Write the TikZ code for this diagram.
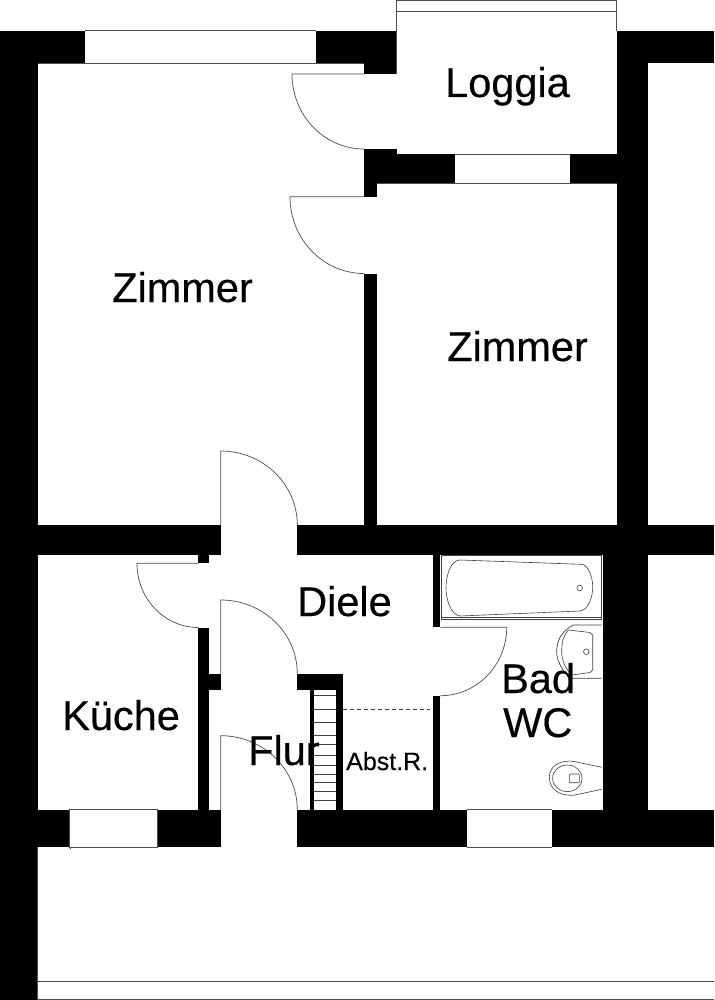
\documentclass[tikz,border=0pt]{standalone}
\usepackage{fontspec}
\setmainfont[FakeBold=0.35]{Liberation Sans}
\tikzset{
  wall/.style={fill=black, draw=none},
  thinline/.style={draw=black!70, line width=0.7pt},
  fixture/.style={draw=black!75, line width=0.6pt},
  roomlabel/.style={anchor=base west, inner sep=0pt, font=\fontsize{41.5}{41.5}\selectfont},
  smalllabel/.style={anchor=base west, inner sep=0pt, font=\fontsize{25}{25}\selectfont}
}
\begin{document}
\begin{tikzpicture}[x=1pt, y=-1pt]
\useasboundingbox (0,0) rectangle (714,1000);
\fill [white] (0,0) rectangle (714,1000);
% outer walls
\fill [wall] (0,30.7) rectangle (37.5,1000);
\fill [wall] (0,30.7) rectangle (85,63.5);
\fill [wall] (315.7,30.7) rectangle (396.5,63.5);
\fill [wall] (364,63.5) rectangle (396.5,74);
\fill [wall] (616.7,30.7) rectangle (714,63.5);
\fill [wall] (616.7,30.7) rectangle (648,525);
\fill [wall] (602.7,555) rectangle (648,810);
% loggia wall
\fill [wall] (364,149) rectangle (396.5,183);
\fill [wall] (396.5,154.5) rectangle (455.3,183);
\fill [wall] (570.3,154.5) rectangle (616.7,183);
\fill [wall] (364,183) rectangle (376.7,196.7);
\fill [wall] (364,273.5) rectangle (376.7,525);
% middle wall
\fill [wall] (37.5,525) rectangle (220.7,555.3);
\fill [wall] (297.3,525) rectangle (714,555.3);
\fill [wall] (198.3,555) rectangle (208.7,563.3);
\fill [wall] (198.3,627.5) rectangle (208.7,810);
\fill [wall] (208.7,673.7) rectangle (220.7,689.7);
\fill [wall] (297.3,673.7) rectangle (343.3,689.5);
\fill [wall] (310,689) rectangle (314.3,810);
\fill [wall] (335.7,689) rectangle (343.3,810);
\fill [wall] (433,555) rectangle (440.3,627.3);
\fill [wall] (433,695.7) rectangle (440.3,810);
% bottom wall
\fill [wall] (37.5,809.7) rectangle (69,847);
\fill [wall] (157.3,809.7) rectangle (220.7,847);
\fill [wall] (297.3,809.7) rectangle (466.7,847);
\fill [wall] (552,809.7) rectangle (714,847);
% windows
\draw [thinline] (85,30.7) -- (315.7,30.7);
\draw [thinline] (37.5,63.5) -- (364,63.5);
\draw [thinline] (455.3,154.5) -- (570.3,154.5);
\draw [thinline] (376.7,183) -- (616.7,183);
\draw [thinline] (69,809.7) rectangle (157.3,847);
\draw [thinline] (466.7,809.7) -- (552,809.7);
\draw [thinline] (466.7,847) -- (552,847);
\draw [thinline] (69,847) -- (71,849);
% loggia outline
\draw [thinline] (396.5,74) -- (396.5,0.5) -- (616.7,0.5) -- (616.7,31);
\draw [thinline] (396.5,11.7) -- (616.7,11.7);
% balcony
\draw [thinline] (37.5,847) -- (37.5,999.5) -- (714,999.5);
\draw [thinline] (37.5,981) -- (714,981);
% doors
\draw [thinline] (364,74) -- (292,74) arc (180:90:72 and 75);
\draw [thinline] (364,196.7) -- (290,196.7) arc (180:90:74 and 76.8);
\draw [thinline] (220.7,525) -- (220.7,451) arc (-90:0:76.6 and 74);
\draw [thinline] (198.3,563.3) -- (137,563.3) arc (180:90:61.3 and 64.2);
\draw [thinline] (220.7,673.7) -- (220.7,600) arc (-90:0:76.6 and 73.7);
\draw [thinline] (220.7,810) -- (220.7,735.7) arc (-90:0:76.6 and 74);
\draw [thinline] (440.3,627.3) -- (506.7,627.3) arc (0:90:66.4 and 68.4);
% stairs
\foreach \ypos in {695,709,722,735,744,755,765,774,782,791,800}
  \draw [fixture] (314.3,\ypos) -- (335.7,\ypos);
\draw [fixture, dash pattern=on 4pt off 3pt] (343.3,709.3) -- (430,709.3);
% bath tub
\draw [fixture, line width=0.7pt] (441.3,555.7) rectangle (601.7,619.3);
\draw [fixture] (441.3,617.5) -- (601.7,617.5);
\draw [fixture] (460,560) -- (581.7,564.3) .. controls (588,565) and (592.7,576) .. (592.7,587)
  .. controls (592.7,598) and (588,610) .. (580,611) -- (460,616)
  .. controls (451,615) and (446,600) .. (446,588) .. controls (446,575) and (451,560) .. (460,560) -- cycle;
\draw [fixture] (579.7,588) circle [radius=2.8];
% sink
\draw [fixture, line width=0.7pt] (601.7,625) -- (573.3,625) .. controls (560,632) and (556.7,642) .. (556.7,651.7)
  .. controls (556.7,661) and (562,670) .. (570,678.3) -- (601.7,678.3);
\draw [fixture] (568.5,630) -- (590,632.5) -- (592.7,635) -- (592.7,670) -- (590,672.5) -- (571.7,675)
  .. controls (565,668) and (561.7,660) .. (561.7,651.7) .. controls (561.7,642) and (563,636) .. (568.5,630) -- cycle;
\draw [fixture] (586.3,651.7) circle [radius=2.8];
% toilet
\draw [fixture] (601.7,767.3) -- (573.3,761.3) .. controls (558,760) and (549.3,767) .. (549.3,777.3)
  .. controls (549.3,788) and (558,796) .. (573.3,795.3) -- (601.7,789.3);
\draw [fixture] (567.3,778.3) ellipse [x radius=14.7, y radius=13.3];
\draw [fixture, rounded corners=1pt] (569.3,774) rectangle (579.3,782.7);
% labels
\node [roomlabel] (loggia) at (445,97) {Loggia};
\node [roomlabel] (zimmerlinks) at (112,302) {Zimmer};
\node [roomlabel] (zimmerrechts) at (447,361) {Zimmer};
\node [roomlabel] (diele) at (297,616) {Diele};
\node [roomlabel] (kueche) at (62,730) {Küche};
\node [roomlabel] (flur) at (248,765) {Flur};
\node [smalllabel] (abstr) at (346,770) {Abst.R.};
\node [roomlabel] (bad) at (501,693) {Bad};
\node [roomlabel] (wc) at (503,737) {WC};
\end{tikzpicture}
\end{document}
